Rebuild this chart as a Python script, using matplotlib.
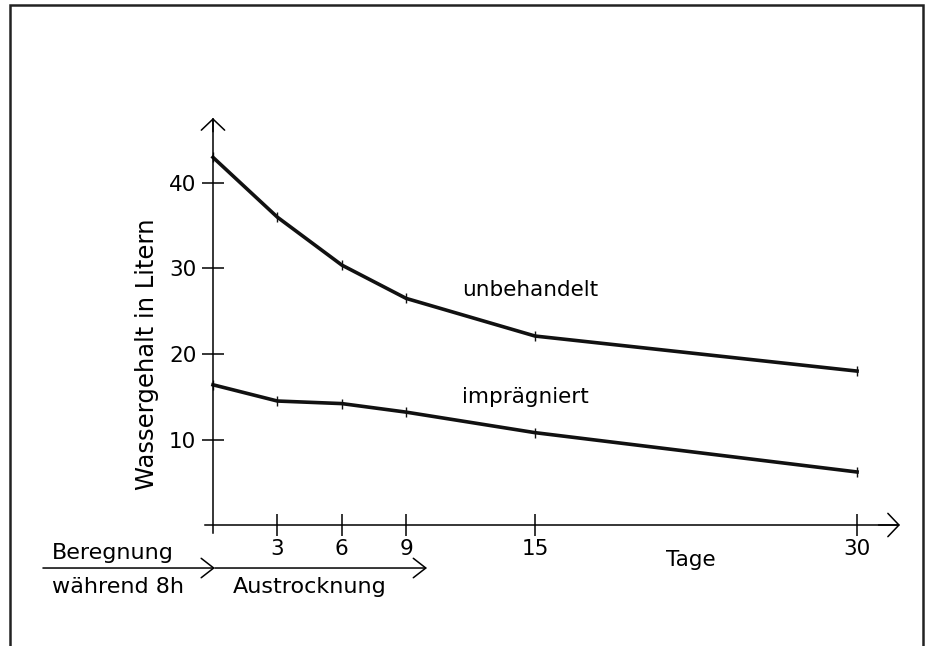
import matplotlib.pyplot as plt
from matplotlib.patches import Rectangle

days = [0, 3, 6, 9, 15, 30]
unbehandelt = [43.0, 36.0, 30.4, 26.5, 22.1, 18.0]
impraegniert = [16.4, 14.5, 14.2, 13.2, 10.8, 6.2]
xticks = [3, 6, 9, 15, 30]
yticks = [10, 20, 30, 40]

plt.rcParams['font.family'] = ['DejaVu Sans']
plt.rcParams['font.size'] = 15

fig = plt.figure(figsize=(9.26, 6.46), dpi=100)
ax = fig.add_axes([0, 0, 1, 1])

# scale: 21.47 px per day, 8.55 px per litre, origin at pixel (213, 525)
ax.set_xlim(-9.92, 33.21)
ax.set_ylim(-14.15, 61.40)

for s in ['top', 'right']:
    ax.spines[s].set_visible(False)
ax.spines['left'].set_position(('data', 0))
ax.spines['bottom'].set_position(('data', 0))
ax.spines['left'].set_bounds(-0.94, 47.5)
ax.spines['bottom'].set_bounds(-0.37, 31.9)
ax.spines['left'].set_linewidth(1.1)
ax.spines['bottom'].set_linewidth(1.1)

ax.set_xticks(xticks)
ax.set_yticks(yticks)
ax.tick_params(direction='inout', length=16, width=1.1, labelsize=15.5)
ax.tick_params(axis='x', pad=2)
ax.tick_params(axis='y', pad=4)

arrow = dict(arrowstyle='->,head_length=0.4,head_width=0.42', lw=1.1,
             color='black', shrinkA=0, shrinkB=0, mutation_scale=20)
ax.annotate('', xy=(0, 47.6), xytext=(0, 46), arrowprops=arrow)
ax.annotate('', xy=(32.0, 0), xytext=(31, 0), arrowprops=arrow)

ax.plot(days, unbehandelt, color='#111111', lw=2.6, marker='|', ms=7, mew=1)
ax.plot(days, impraegniert, color='#111111', lw=2.6, marker='|', ms=7, mew=1)

ax.text(11.6, 27.5, 'unbehandelt', ha='left', va='center', fontsize=15.5)
ax.text(11.6, 15.0, 'imprägniert', ha='left', va='center', fontsize=15.5)

ax.text(-3.05, 20.0, 'Wassergehalt in Litern', rotation=90, ha='center',
        va='center', fontsize=17.5)
ax.text(22.26, -4.1, 'Tage', ha='center', va='center', fontsize=15.5)

# Beregnung / Austrocknung arrows below the axis
small = dict(arrowstyle='->,head_length=0.45,head_width=0.35', lw=1.1,
             color='black', shrinkA=0, shrinkB=0, mutation_scale=20)
ax.annotate('', xy=(0.09, -5.03), xytext=(-7.92, -5.03), arrowprops=small)
ax.annotate('', xy=(9.97, -5.03), xytext=(0.09, -5.03), arrowprops=small)
ax.text(-7.5, -3.27, 'Beregnung', ha='left', va='center', fontsize=16)
ax.text(-7.5, -7.25, 'während 8h', ha='left', va='center', fontsize=16)
ax.text(0.93, -7.25, 'Austrocknung', ha='left', va='center', fontsize=16)

# page frame
fig.patches.append(Rectangle((10 / 926, -0.02), 913 / 926, 1.02 - 5 / 646,
                             transform=fig.transFigure, fill=False,
                             lw=1.8, edgecolor='#222222'))

fig.savefig('out.png', dpi=100)
